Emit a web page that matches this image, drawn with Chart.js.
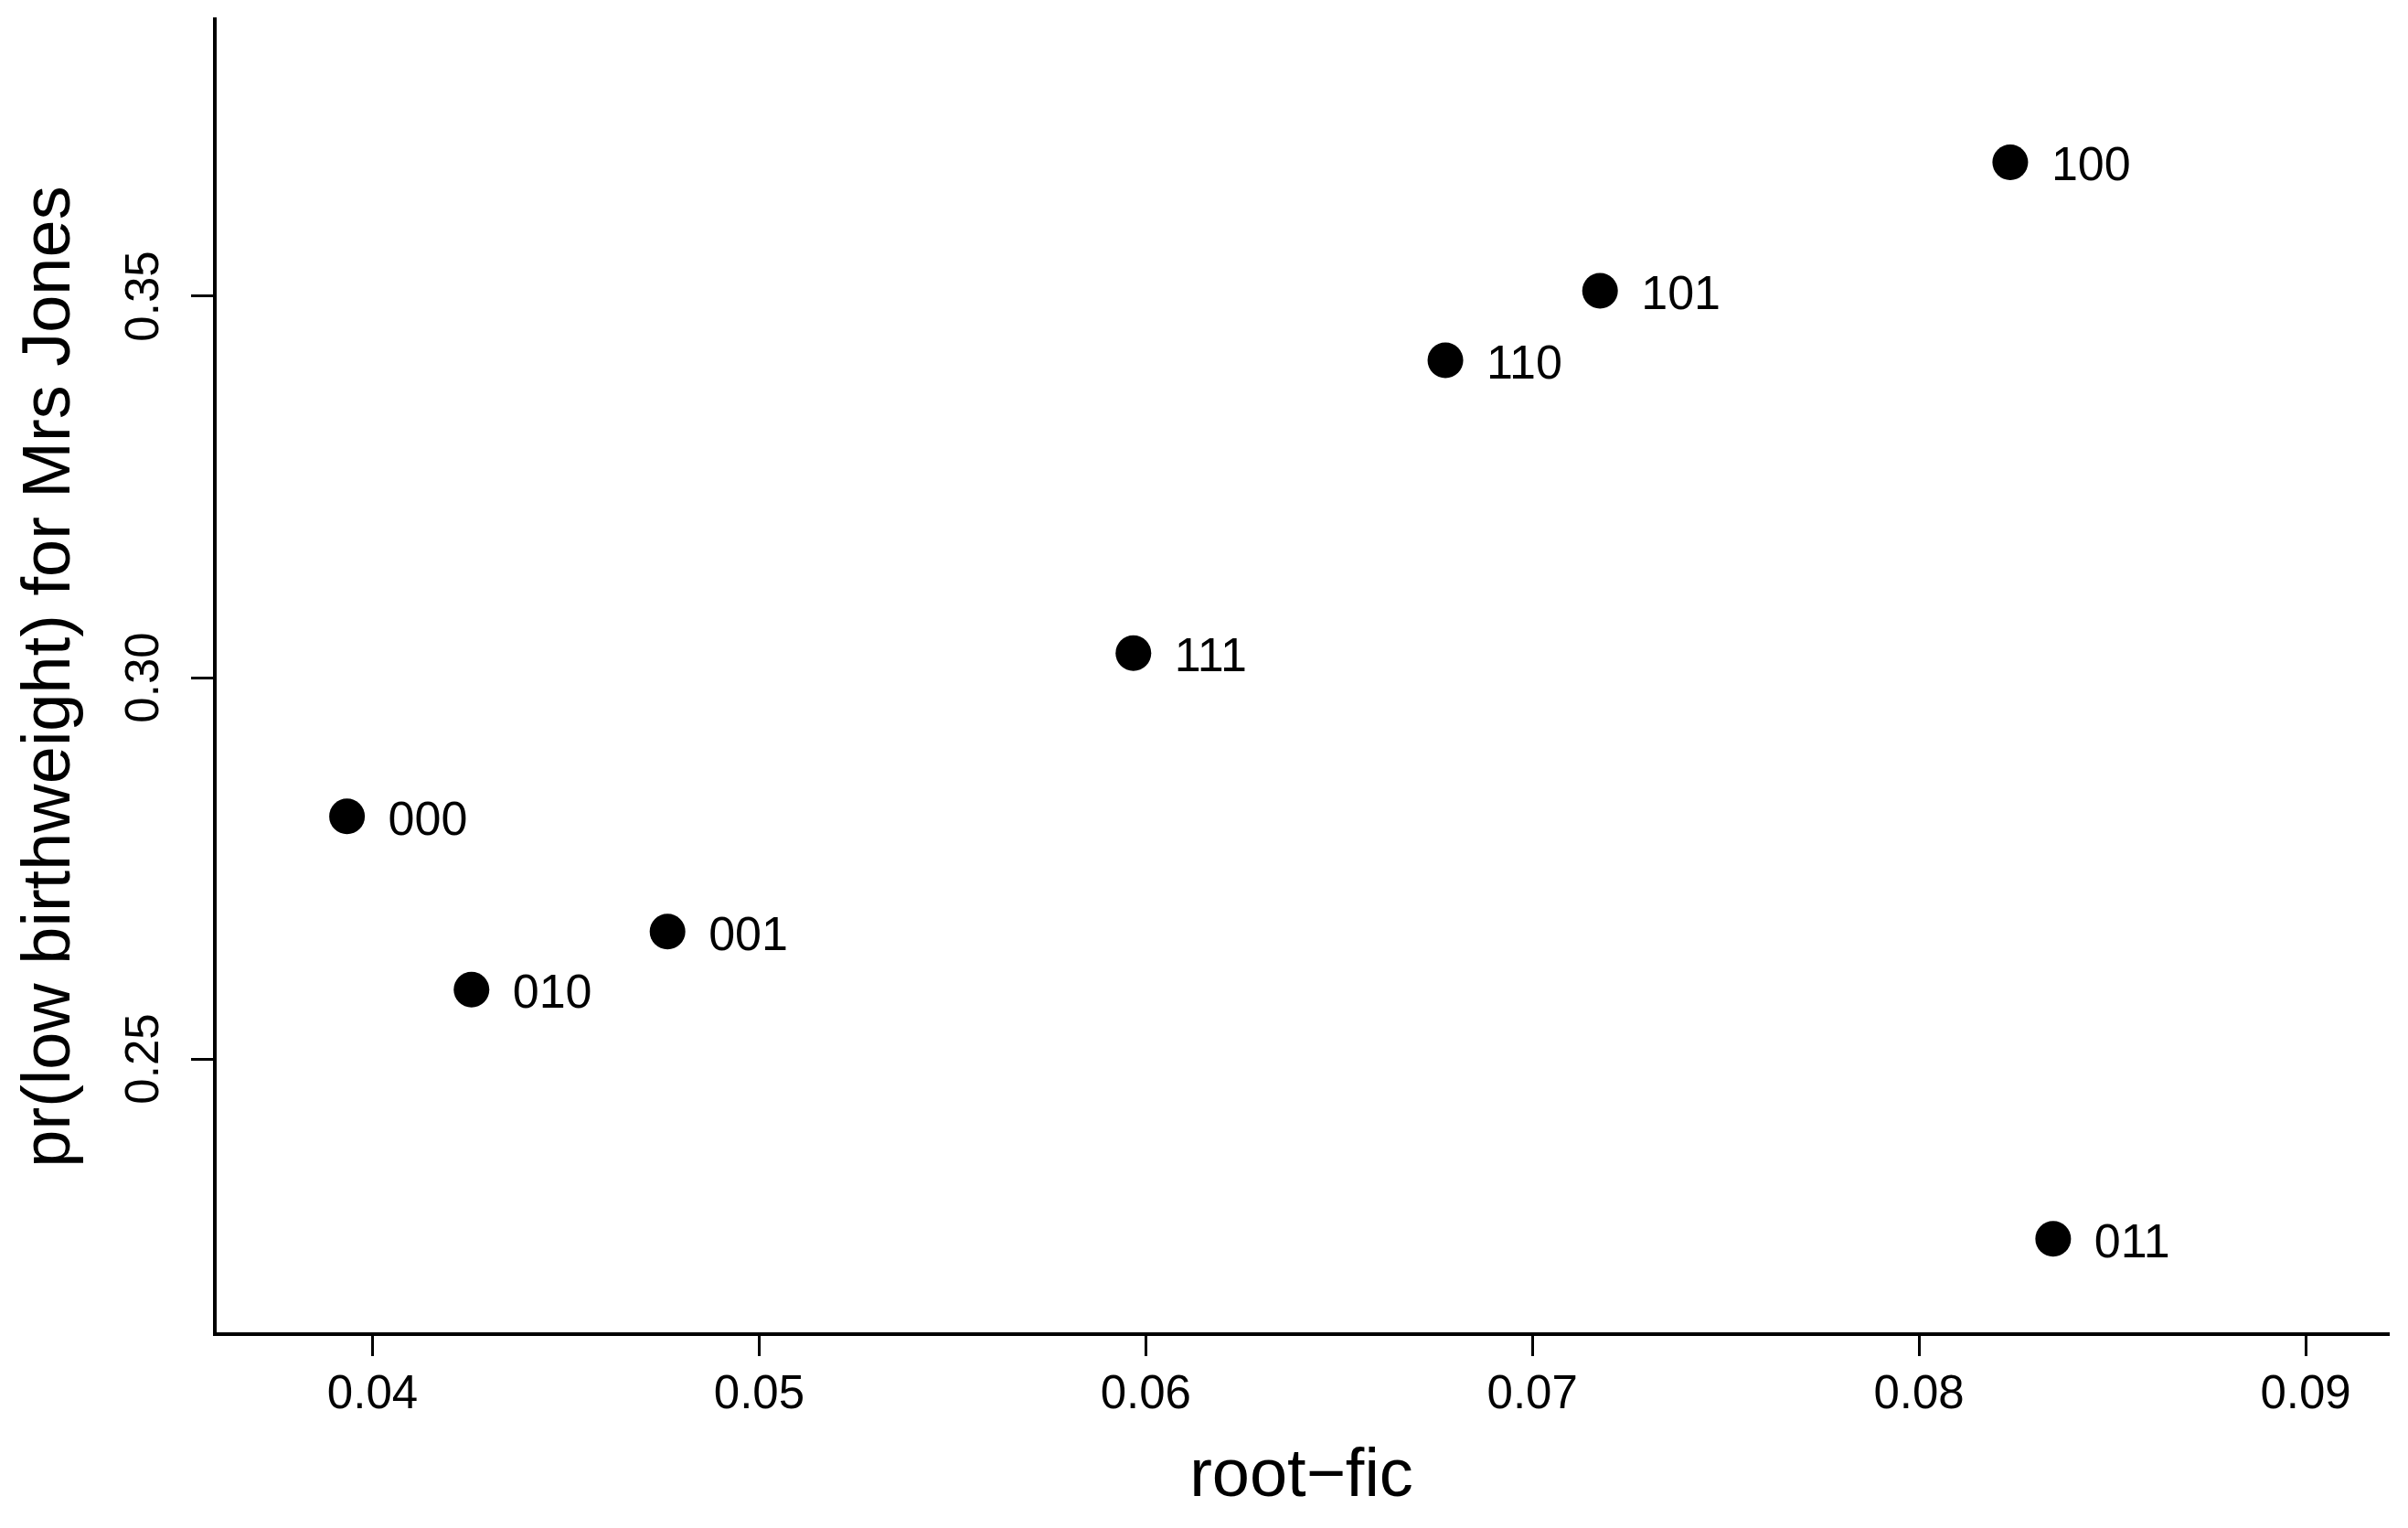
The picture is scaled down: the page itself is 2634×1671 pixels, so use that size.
<!DOCTYPE html>
<html>
<head>
<meta charset="utf-8">
<script src="https://cdn.jsdelivr.net/npm/chart.js@4"></script>
<style>
  html, body { margin: 0; padding: 0; background: #ffffff; }
  #wrap { width: 2634px; height: 1671px; position: relative; }
  canvas { display: block; }
</style>
</head>
<body>
<div id="wrap"><canvas id="c" width="2634" height="1671"></canvas></div>
<script>
// ---- data ----
const categories = ['000', '010', '001', '111', '110', '101', '100', '011'];
const rootFic    = [0.03934, 0.04256, 0.04763, 0.05968, 0.06775, 0.07175, 0.08236, 0.08347];
const prLowBirth = [0.28181, 0.25908, 0.26670, 0.30320, 0.34161, 0.35072, 0.36757, 0.22641];

const xTicks = [0.04, 0.05, 0.06, 0.07, 0.08, 0.09];
const xTickLabels = ['0.04', '0.05', '0.06', '0.07', '0.08', '0.09'];
const yTicks = [0.25, 0.30, 0.35];
const yTickLabels = ['0.25', '0.30', '0.35'];

const xTitle = 'root\u2212fic';
const yTitle = 'pr(low birthweight) for Mrs Jones';

const FONT = '"Liberation Sans", Arial, Helvetica, sans-serif';

const pointLabelPlugin = {
  id: 'pointLabels',
  afterDatasetsDraw(chart) {
    const ctx = chart.ctx;
    const meta = chart.getDatasetMeta(0);
    ctx.save();
    ctx.fillStyle = '#000000';
    ctx.font = '52px ' + FONT;
    ctx.textAlign = 'left';
    ctx.textBaseline = 'alphabetic';
    meta.data.forEach((el, i) => {
      ctx.fillText(categories[i], el.x + 45, el.y + 20);
    });
    ctx.restore();
  }
};

Chart.defaults.font.family = FONT;
Chart.defaults.color = '#000000';

new Chart(document.getElementById('c'), {
  type: 'scatter',
  data: {
    datasets: [{
      label: 'pr',
      data: rootFic.map((x, i) => ({ x: x, y: prLowBirth[i] })),
      backgroundColor: '#000000',
      borderColor: '#000000',
      borderWidth: 0,
      pointRadius: 19.5,
      pointHoverRadius: 19.5,
      clip: false
    }]
  },
  options: {
    responsive: false,
    animation: false,
    events: [],
    devicePixelRatio: 1,
    layout: { padding: { top: 21, right: 22, bottom: 0, left: 0 } },
    plugins: {
      legend: { display: false },
      tooltip: { enabled: false },
      title: { display: false }
    },
    scales: {
      x: {
        type: 'linear',
        position: 'bottom',
        min: 0.035921,
        max: 0.092128,
        afterFit(scale) {
          scale.height = 212;
          scale.paddingLeft = 0; scale.paddingRight = 0;
          scale.paddingTop = 0; scale.paddingBottom = 0;
        },
        afterBuildTicks(scale) { scale.ticks = xTicks.map(v => ({ value: v })); },
        border: { display: true, color: '#000000', width: 4 },
        grid: { display: true, drawOnChartArea: false, drawTicks: true, tickLength: 24, lineWidth: 3, color: '#000000' },
        ticks: {
          autoSkip: false,
          maxRotation: 0,
          minRotation: 0,
          padding: 12,
          color: '#000000',
          font: { size: 51, family: FONT },
          callback(value) {
            const i = xTicks.findIndex(t => Math.abs(t - value) < 1e-9);
            return i >= 0 ? xTickLabels[i] : '';
          }
        },
        title: {
          display: true,
          text: xTitle,
          color: '#000000',
          font: { size: 74, family: FONT },
          padding: { top: 0, bottom: 11 }
        }
      },
      y: {
        type: 'linear',
        position: 'left',
        min: 0.21391,
        max: 0.38633,
        afterFit(scale) {
          scale.width = 235;
          scale.paddingLeft = 0; scale.paddingRight = 0;
          scale.paddingTop = 0; scale.paddingBottom = 0;
        },
        afterBuildTicks(scale) { scale.ticks = yTicks.map(v => ({ value: v })); },
        border: { display: true, color: '#000000', width: 4 },
        grid: { display: true, drawOnChartArea: false, drawTicks: true, tickLength: 26, lineWidth: 3, color: '#000000' },
        ticks: {
          autoSkip: false,
          minRotation: 90,
          maxRotation: 90,
          crossAlign: 'center',
          padding: 0,
          color: '#000000',
          font: { size: 51, family: FONT },
          callback(value) {
            const i = yTicks.findIndex(t => Math.abs(t - value) < 1e-9);
            return i >= 0 ? yTickLabels[i] : '';
          }
        },
        title: {
          display: true,
          text: yTitle,
          color: '#000000',
          font: { size: 74, family: FONT },
          padding: { top: 11, bottom: 0 }
        }
      }
    }
  },
  plugins: [pointLabelPlugin]
});
</script>
</body>
</html>
